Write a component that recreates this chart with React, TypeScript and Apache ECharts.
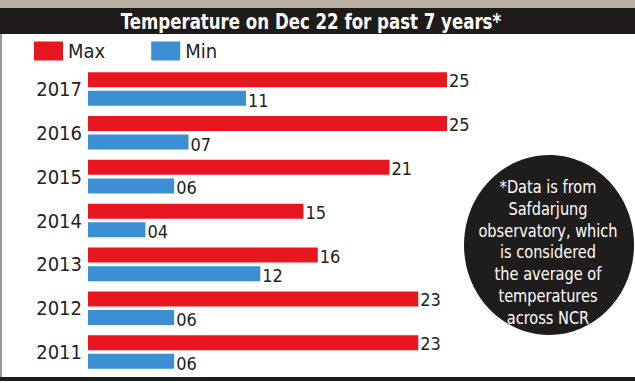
import React, { useEffect, useRef } from "react";
import * as echarts from "echarts";

const years = ["2017", "2016", "2015", "2014", "2013", "2012", "2011"];
const maxTemps = [25, 25, 21, 15, 16, 23, 23];
const minTemps = [11, 7, 6, 4, 12, 6, 6];
const titleText = "Temperature on Dec 22 for past 7 years*";
const noteLines = [
  "*Data is from",
  "Safdarjung",
  "observatory, which",
  "is considered",
  "the average of",
  "temperatures",
  "across NCR",
];

const FONT = "'DejaVu Sans Condensed', 'Liberation Sans Narrow', sans-serif";
const RED = "#e8161f";
const BLUE = "#3b8fd2";

export default function App() {
  const ref = useRef<HTMLDivElement>(null);
  useEffect(() => {
    if (!ref.current) return;
    const chart = echarts.init(ref.current, null, { renderer: "svg" });
    const pad = (v: number) => String(v).padStart(2, "0");
    chart.setOption({
      animation: false,
      backgroundColor: "#ffffff",
      textStyle: { fontFamily: FONT },
      legend: {
        left: 34,
        top: 41,
        padding: 0,
        icon: "rect",
        itemWidth: 29,
        itemHeight: 19,
        itemGap: 46,
        textStyle: { fontFamily: FONT, fontSize: 20, color: "#222", padding: [0, 0, 0, 0] },
        data: ["Max", "Min"],
      },
      grid: { left: 88, right: 188, top: 67, bottom: 9, containLabel: false },
      xAxis: {
        type: "value",
        min: 0,
        max: 25,
        show: false,
      },
      yAxis: {
        type: "category",
        data: years,
        inverse: true,
        axisLine: { show: false },
        axisTick: { show: false },
        splitLine: { show: false },
        axisLabel: { fontFamily: FONT, fontSize: 20, color: "#222", margin: 6 },
      },
      series: [
        {
          name: "Max",
          type: "bar",
          data: maxTemps,
          barWidth: 15,
          barGap: "24%",
          itemStyle: { color: RED },
          label: {
            show: true,
            position: "right",
            distance: 2,
            formatter: (p: any) => pad(p.value),
            fontFamily: FONT,
            fontSize: 18,
            color: "#222",
            offset: [0, 1],
          },
        },
        {
          name: "Min",
          type: "bar",
          data: minTemps,
          barWidth: 15,
          itemStyle: { color: BLUE },
          label: {
            show: true,
            position: "right",
            distance: 2,
            formatter: (p: any) => pad(p.value),
            fontFamily: FONT,
            fontSize: 18,
            color: "#222",
            offset: [0, 2],
          },
        },
      ],
      graphic: [
        { type: "rect", shape: { x: 0, y: 0, width: 635, height: 8 }, style: { fill: "#b9b2a4" }, z: 0 },
        { type: "rect", shape: { x: 0, y: 8, width: 635, height: 26 }, style: { fill: "#1f1b1b" }, z: 1 },
        {
          type: "text",
          x: 311,
          y: 21,
          scaleX: 0.84,
          style: {
            text: titleText,
            fill: "#ffffff",
            font: `bold 22px ${FONT}`,
            align: "center",
            verticalAlign: "middle",
          },
          z: 2,
        },
        { type: "rect", shape: { x: 0, y: 34, width: 2, height: 343 }, style: { fill: "#9a9a9a" }, z: 1 },
        { type: "rect", shape: { x: 0, y: 377, width: 635, height: 4 }, style: { fill: "#1f1b1b" }, z: 1 },
        {
          type: "ellipse",
          shape: { cx: 549, cy: 245, rx: 85, ry: 90 },
          style: { fill: "#1f1c1c" },
          z: 1,
        },
        ...noteLines.map((t, i) => ({
          type: "text",
          x: 548,
          y: 187 + i * 21.7,
          scaleX: 0.9,
          style: {
            text: t,
            fill: "#ffffff",
            font: `18px ${FONT}`,
            align: "center",
            verticalAlign: "middle",
          },
          z: 2,
        })),
      ],
    });
    return () => chart.dispose();
  }, []);
  return (
    <div
      ref={ref}
      style={{ position: "fixed", left: 0, top: 0, width: 635, height: 383 }}
    />
  );
}
